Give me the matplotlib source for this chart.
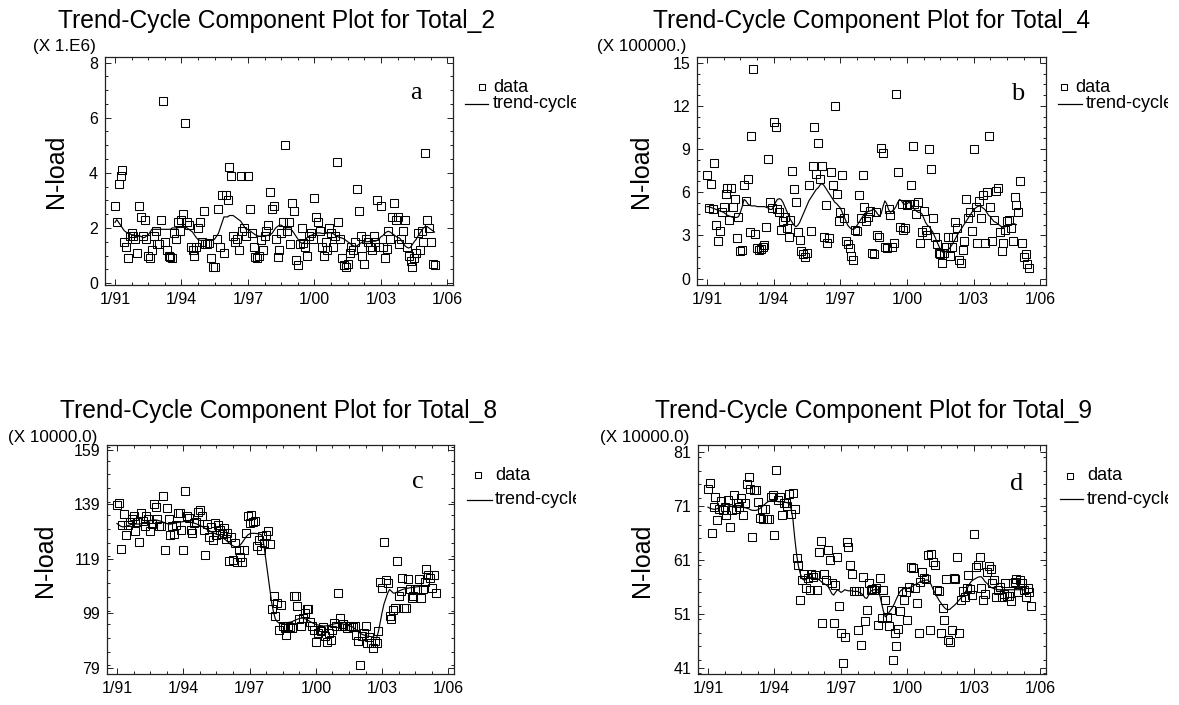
import numpy as np
import matplotlib.pyplot as plt
from matplotlib.lines import Line2D
from matplotlib.ticker import FixedLocator, MultipleLocator
from matplotlib.transforms import Bbox, TransformedBbox

plt.rcParams['font.family'] = ['Liberation Sans', 'DejaVu Sans']

W, H = 1179, 705

# monthly N-load series, first value = January 1991
total2_data = [  # x 1.E6
    2.8, 2.2, 3.6, 3.9, 4.1, 1.5, 1.3, 0.9, 1.7, 1.8, 1.7, 1.6,
    1.1, 2.8, 2.4, 1.7, 2.3, 1.6, 1.0, 0.9, 1.2, 1.7, 1.9, 1.4,
    1.4, 2.3, 6.6, 1.5, 1.2, 1.0, 0.95, 0.9, 1.8, 1.6, 2.2, 1.9,
    2.3, 2.5, 5.8, 2.2, 2.1, 1.3, 1.2, 1.0, 1.3, 2.0, 2.2, 1.5,
    2.6, 1.4, 1.4, 1.45, 0.9, 0.6, 0.6, 1.6, 2.7, 1.3, 3.2, 1.1,
    3.2, 3.0, 4.2, 3.9, 1.7, 1.5, 1.6, 1.2, 3.9, 1.9, 2.0, 1.7,
    3.9, 2.7, 1.8, 1.3, 0.95, 0.9, 1.0, 1.55, 1.2, 1.7, 1.9, 2.1,
    3.3, 2.7, 2.8, 1.6, 0.95, 1.2, 1.8, 2.2, 5.0, 1.9, 2.2, 1.4,
    2.9, 2.6, 0.85, 0.65, 1.4, 2.0, 1.45, 1.3, 1.0, 1.7, 1.8, 1.6,
    3.1, 2.4, 2.2, 1.9, 1.3, 1.0, 1.5, 1.2, 2.0, 1.8, 1.3, 1.7,
    4.4, 2.2, 1.6, 0.9, 0.65, 0.6, 0.7, 1.1, 1.3, 1.2, 1.5, 3.4,
    2.6, 1.7, 1.0, 0.7, 1.6, 1.5, 1.3, 1.2, 1.7, 1.5, 3.0, 1.3,
    2.8, 1.3, 0.9, 1.25, 1.9, 1.6, 2.4, 2.9, 2.3, 2.4, 1.4, 1.6,
    1.9, 2.3, 1.3, 1.0, 0.8, 0.6, 0.9, 1.1, 1.8, 1.2, 1.9, 1.5,
    4.7, 2.3, 2.0, 1.5, 0.7, 0.65,
]
total2_trend = [
    2.2, 2.3, 2.2, 2.1, 2.0, 1.9, 1.85, 1.8, 1.8, 1.75, 1.75, 1.7,
    1.7, 1.7, 1.7, 1.65, 1.65, 1.7, 1.75, 1.85, 1.95, 1.95, 1.95, 1.95,
    1.95, 1.95, 1.95, 1.95, 1.95, 1.95, 1.95, 2.0, 2.0, 2.0, 2.0, 2.05,
    2.05, 2.05, 2.05, 2.0, 1.95, 1.9, 1.85, 1.75, 1.65, 1.58, 1.55, 1.55,
    1.55, 1.55, 1.55, 1.55, 1.55, 1.55, 1.6, 1.7, 1.8, 2.0, 2.2, 2.4,
    2.4, 2.4, 2.45, 2.45, 2.45, 2.4, 2.35, 2.3, 2.25, 2.15, 2.05, 1.95,
    1.95, 1.9, 1.85, 1.8, 1.75, 1.72, 1.7, 1.7, 1.7, 1.7, 1.72, 1.74,
    1.75, 1.8, 1.9, 2.0, 2.05, 2.1, 2.1, 2.05, 2.0, 1.95, 1.95, 1.95,
    1.9, 1.8, 1.7, 1.6, 1.5, 1.45, 1.45, 1.55, 1.65, 1.7, 1.72, 1.75,
    1.8, 1.82, 1.82, 1.82, 1.8, 1.8, 1.8, 1.82, 1.82, 1.82, 1.8, 1.75,
    1.7, 1.67, 1.65, 1.63, 1.6, 1.55, 1.5, 1.45, 1.4, 1.35, 1.33, 1.35,
    1.4, 1.45, 1.48, 1.5, 1.5, 1.5, 1.52, 1.52, 1.52, 1.52, 1.55, 1.6,
    1.68, 1.72, 1.8, 1.85, 1.88, 1.85, 1.8, 1.75, 1.7, 1.65, 1.64, 1.55,
    1.45, 1.35, 1.3, 1.27, 1.3, 1.4, 1.5, 1.58, 1.7, 1.8, 1.9, 2.0,
    2.05, 2.05, 2.0, 1.95, 1.9, 1.85,
]

total4_data = [  # x 100000.
    7.2, 4.9, 6.6, 4.8, 8.0, 3.7, 2.6, 3.3, 4.6, 5.0, 5.9, 6.3,
    4.1, 6.3, 5.0, 5.5, 2.8, 4.3, 1.9, 2.0, 6.5, 5.4, 6.9, 3.2,
    9.9, 14.6, 3.1, 2.1, 2.0, 2.05, 2.2, 2.3, 3.6, 8.3, 5.3, 4.9,
    10.9, 10.5, 4.8, 4.6, 3.4, 4.0, 4.3, 3.5, 2.9, 4.1, 7.5, 6.2,
    5.3, 3.2, 2.7, 1.9, 1.7, 1.5, 1.8, 6.5, 3.3, 7.8, 10.5, 7.3,
    9.4, 6.9, 7.8, 2.9, 5.1, 2.5, 2.8, 7.4, 6.5, 12.0, 5.9, 4.0,
    4.6, 7.2, 4.2, 2.6, 2.4, 2.1, 1.6, 1.3, 3.4, 3.3, 5.8, 4.2,
    7.2, 5.0, 4.0, 4.3, 4.7, 1.8, 1.7, 4.6, 3.0, 2.9, 9.1, 8.7,
    2.2, 2.1, 4.8, 4.4, 2.2, 2.5, 12.8, 7.4, 3.6, 5.2, 3.4, 3.5,
    5.1, 5.2, 6.5, 9.2, 5.2, 4.5, 5.3, 2.5, 3.2, 4.7, 3.4, 3.0,
    9.0, 7.6, 4.2, 2.9, 2.4, 1.8, 1.7, 1.1, 1.8, 2.2, 2.9, 1.6,
    2.2, 2.9, 3.9, 3.5, 1.3, 1.1, 2.0, 2.6, 5.5, 4.2, 4.6, 3.3,
    9.0, 5.0, 2.5, 5.4, 4.2, 5.8, 2.5, 6.0, 9.9, 5.0, 2.6, 4.1,
    6.1, 6.3, 3.2, 1.9, 2.5, 3.4, 4.0, 4.1, 3.5, 2.6, 5.7, 5.1,
    4.6, 6.8, 2.5, 1.5, 1.7, 1.0, 0.7,
]
total4_trend = [
    5.0, 5.0, 4.95, 4.9, 4.85, 4.8, 4.75, 4.7, 4.65, 4.6, 4.5, 4.4,
    4.35, 4.3, 4.25, 4.25, 4.25, 4.3, 4.6, 5.0, 5.5, 5.4, 5.2, 5.1,
    5.05, 5.05, 5.05, 5.0, 5.0, 5.0, 5.0, 5.0, 4.95, 4.9, 4.8, 4.8,
    5.0, 5.3, 5.5, 5.55, 5.5, 5.3, 5.0, 4.7, 4.4, 4.1, 3.9, 3.7,
    3.6, 3.7, 3.9, 4.2, 4.5, 4.8, 5.1, 5.4, 5.6, 5.8, 6.0, 6.2,
    6.3, 6.5, 6.6, 6.5, 6.3, 6.1, 5.9, 5.7, 5.5, 5.3, 5.2, 5.05,
    4.9, 4.6, 4.3, 4.0, 3.7, 3.55, 3.45, 3.4, 3.5, 3.7, 3.9, 4.1,
    4.3, 4.5, 4.6, 4.65, 4.7, 4.75, 4.8, 4.7, 4.5, 4.35, 4.5, 5.0,
    5.4, 5.2, 4.8, 4.6, 4.7, 4.8, 5.0, 5.3, 5.5, 5.4, 5.2, 5.15,
    5.2, 5.3, 5.2, 5.0, 4.8, 4.7, 4.6, 4.6, 4.5, 4.2, 3.9, 3.7,
    3.6, 3.4, 3.2, 2.9, 2.6, 2.3, 2.0, 1.85, 1.8, 1.9, 2.0, 2.1,
    2.3, 2.5, 2.75, 3.0, 3.2, 3.4, 3.6, 3.8, 4.0, 4.2, 4.4, 4.6,
    4.8, 4.9, 5.0, 5.05, 5.0, 4.9, 4.8, 4.6, 4.4, 4.3, 4.1, 3.95,
    3.9, 3.8, 3.7, 3.6, 3.55, 3.6, 3.65, 3.7, 3.75, 3.8, 3.8, 3.75,
]

total8_data = [  # x 10000.0
    138.8, 139.7, 122.7, 131.5, 135.5, 127.8, 131.5, 132.7, 133.7, 134.6, 129.1, 132.4,
    125.4, 136.0, 133.1, 131.1, 134.8, 133.6, 129.1, 131.9, 139.2, 138.2, 133.5, 131.0,
    131.0, 142.1, 122.3, 137.6, 133.6, 127.8, 131.1, 128.2, 131.5, 135.8, 136.0, 129.8,
    122.3, 144.1, 134.6, 134.0, 129.7, 128.7, 132.1, 132.7, 136.4, 137.0, 134.8, 129.7,
    120.5, 131.9, 127.2, 130.9, 126.0, 132.1, 127.8, 131.5, 129.5, 128.0, 130.5, 126.5,
    128.4, 118.1, 127.2, 118.5, 124.8, 117.7, 122.3, 119.9, 117.9, 122.3, 128.4, 134.6,
    132.1, 135.0, 132.4, 133.0, 123.8, 126.0, 122.3, 127.5, 125.0, 127.8, 129.1, 124.5,
    100.6, 105.3, 97.9, 102.8, 93.0, 102.2, 94.3, 93.7, 91.2, 94.3, 94.0, 93.5,
    105.3, 105.3, 101.6, 96.9, 94.3, 97.5, 99.1, 100.6, 100.6, 96.0, 94.3, 93.0,
    88.4, 91.8, 93.0, 92.4, 94.0, 90.6, 88.4, 92.0, 89.4, 93.0, 95.5, 94.5,
    106.5, 97.3, 94.3, 95.0, 94.3, 93.8, 94.5, 94.3, 94.0, 94.3, 91.2, 88.8,
    80.0, 90.6, 92.0, 94.3, 88.2, 90.5, 88.2, 86.3, 88.8, 88.2, 92.4, 110.7,
    108.3, 125.4, 111.3, 110.1, 97.9, 96.9, 100.4, 101.0, 118.4, 105.3, 107.4, 111.9,
    101.0, 101.0, 111.5, 107.8, 104.6, 105.3, 107.8, 108.0, 111.5, 104.6, 107.8, 110.7,
    115.2, 113.0, 112.0, 108.3, 113.0, 106.4,
]
total8_trend = [
    132.0, 131.5, 131.0, 130.8, 130.8, 131.0, 131.2, 131.5, 131.7, 131.8, 131.8, 131.8,
    131.8, 131.9, 132.0, 132.2, 132.5, 132.8, 133.0, 133.2, 133.3, 133.3, 133.2, 133.0,
    132.8, 132.5, 132.2, 132.0, 131.8, 131.8, 131.9, 132.0, 132.2, 132.4, 132.5, 132.6,
    132.7, 132.8, 132.8, 132.7, 132.5, 132.3, 132.1, 131.9, 131.6, 131.3, 131.0, 130.6,
    130.2, 129.8, 129.4, 129.0, 128.7, 128.4, 128.1, 127.8, 127.4, 127.0, 126.5, 126.0,
    125.4, 124.8, 124.2, 123.8, 123.5, 123.4, 123.6, 124.2, 125.0, 126.0, 127.0, 127.8,
    128.2, 128.4, 128.4, 128.4, 128.3, 128.2, 128.0, 127.5, 123.0, 118.0, 113.0, 108.0,
    103.0, 99.5, 97.0, 96.0, 95.5, 95.3, 95.3, 95.5, 95.6, 95.7, 95.8, 96.0,
    96.3, 96.6, 96.9, 97.1, 97.3, 97.3, 97.1, 96.8, 96.4, 96.0, 95.6, 95.3,
    95.0, 94.8, 94.6, 94.5, 94.4, 94.4, 94.5, 94.6, 94.8, 95.0, 95.2, 95.3,
    95.4, 95.4, 95.3, 95.1, 94.9, 94.7, 94.5, 94.3, 94.0, 93.5, 92.9, 92.3,
    91.8, 91.4, 91.1, 90.9, 90.7, 90.6, 90.5, 90.4, 90.2, 90.0, 92.5, 96.0,
    99.5, 102.5, 104.5, 106.5, 107.8, 107.2, 106.5, 106.5, 106.8, 107.2, 107.5, 107.8,
    108.0, 108.2, 108.3, 108.4, 108.5, 108.6, 108.7, 108.8, 108.9, 109.0, 109.0, 109.0,
    109.0, 109.0,
]

total9_data = [  # x 10000.0
    74.2, 75.2, 66.0, 70.8, 72.7, 68.5, 70.5, 71.9, 70.2, 70.8, 69.3, 72.1,
    67.2, 70.2, 73.0, 70.5, 71.5, 70.8, 72.4, 69.3, 71.5, 75.0, 76.4, 74.2,
    65.3, 74.0, 73.9, 71.8, 68.7, 70.5, 68.6, 70.5, 68.6, 68.6, 72.7, 73.0,
    65.6, 77.6, 72.1, 72.7, 69.3, 71.6, 71.5, 71.0, 73.3, 69.6, 73.4, 70.5,
    61.3, 60.1, 53.6, 57.3, 58.4, 55.8, 57.6, 55.5, 58.5, 57.8, 58.2, 55.5,
    62.5, 64.6, 49.4, 58.5, 57.3, 62.8, 61.0, 56.8, 49.3, 56.4, 61.6, 52.5,
    47.5, 42.0, 46.8, 64.4, 63.5, 60.1, 58.5, 55.2, 55.2, 48.1, 55.2, 45.3,
    57.8, 49.8, 51.8, 56.7, 55.5, 55.6, 55.5, 55.8, 49.0, 57.6, 50.2, 55.5,
    53.6, 50.5, 48.7, 51.8, 42.5, 47.5, 45.0, 48.2, 51.5, 55.2, 53.6, 55.0,
    49.9, 56.1, 59.8, 59.6, 55.8, 53.0, 47.5, 57.0, 58.8, 57.6, 57.4, 61.9,
    48.0, 62.2, 60.7, 60.1, 55.5, 55.2, 47.5, 52.1, 49.9, 57.4, 46.2, 45.9,
    48.1, 57.6, 57.4, 61.6, 47.5, 53.6, 55.2, 54.2, 55.8, 58.2, 55.6, 54.5,
    65.8, 59.8, 60.1, 61.6, 55.8, 53.6, 54.8, 58.7, 59.9, 59.3, 56.7, 57.3,
    54.2, 55.5, 56.1, 54.2, 54.8, 56.7, 54.4, 54.4, 53.5, 56.7, 57.0, 57.4,
    55.0, 57.3, 56.7, 55.5, 54.2, 55.8, 55.0, 52.4,
]
total9_trend = [
    70.8, 70.6, 70.5, 70.4, 70.4, 70.5, 70.7, 71.0, 71.3, 71.5, 71.4, 71.2,
    71.0, 70.9, 70.8, 70.8, 70.8, 70.8, 70.8, 70.8, 70.7, 70.6, 70.5, 70.3,
    70.2, 70.2, 70.2, 70.3, 70.5, 70.8, 71.1, 71.4, 71.7, 71.9, 72.0, 72.0,
    72.0, 71.9, 71.8, 71.8, 71.8, 71.8, 71.7, 71.6, 71.5, 70.5, 68.5, 65.0,
    62.0, 59.8, 58.5, 57.5, 57.3, 57.4, 57.6, 57.8, 57.8, 57.7, 57.6, 57.6,
    57.4, 57.1, 56.8, 56.6, 56.4, 56.1, 55.5, 54.8, 54.5, 55.0, 55.5, 55.3,
    55.0, 55.2, 55.5, 55.4, 55.3, 55.3, 55.3, 55.2, 55.2, 55.2, 55.0, 54.8,
    54.5, 54.0, 53.9, 54.5, 55.2, 55.4, 55.5, 55.5, 55.5, 54.5, 53.0, 51.5,
    50.5, 50.8, 51.3, 51.8, 52.3, 53.0, 53.8, 54.5, 55.2, 55.5, 55.7, 55.8,
    55.8, 55.9, 56.0, 56.2, 56.4, 56.6, 56.8, 57.0, 57.1, 57.2, 57.3, 57.3,
    57.0, 56.3, 55.5, 54.8, 54.2, 53.6, 53.1, 52.6, 52.2, 51.9, 51.8, 51.9,
    52.2, 52.5, 52.8, 53.2, 53.6, 54.0, 54.3, 54.8, 55.5, 56.2, 56.8, 57.2,
    57.4, 57.6, 57.8, 57.9, 57.9, 57.5, 57.0, 56.7, 56.3, 56.0, 55.8, 55.7,
    55.6, 55.5, 55.5, 55.5, 55.5, 55.5, 55.5, 55.5, 55.5, 55.5, 55.5, 55.5,
    55.5, 55.5, 55.5, 55.5, 55.5,
]

x_ticks = [1991, 1994, 1997, 2000, 2003, 2006]
x_labels = ['1/91', '1/94', '1/97', '1/00', '1/03', '1/06']


def months(values):
    return 1991 + np.arange(len(values)) / 12.0


def fx(px):
    return px / W


def fy(py):
    return 1 - py / H


# layout of each panel in pixels: axes box (left, right, top, bottom)
panels = [
    dict(series='Total_2', data=total2_data, trend=total2_trend, scale='(X 1.E6)',
         letter='a', yticks=[0, 2, 4, 6, 8], ylim=(-0.07, 8.2), yminor=0.5,
         box=(105, 453, 57, 285), title=(58, 28), scale_at=(33, 51),
         ylab=(56, 171), letter_at=(416, 99),
         leg=dict(mk=(482, 87), dtx=493, ln=(465, 488, 104), ttx=493, clip=576)),
    dict(series='Total_4', data=total4_data, trend=total4_trend, scale='(X 100000.)',
         letter='b', yticks=[0, 3, 6, 9, 12, 15], ylim=(-0.45, 15.4), yminor=0.75,
         box=(697, 1046, 57, 285), title=(653, 28), scale_at=(597, 51),
         ylab=(641, 171), letter_at=(1018, 100),
         leg=dict(mk=(1064, 87), dtx=1075, ln=(1058, 1082, 104), ttx=1086, clip=1168)),
    dict(series='Total_8', data=total8_data, trend=total8_trend, scale='(X 10000.0)',
         letter='c', yticks=[79, 99, 119, 139, 159], ylim=(76.8, 160.8), yminor=5,
         box=(107, 454, 445, 674), title=(60, 418), scale_at=(8, 442),
         ylab=(45, 560), letter_at=(418, 488),
         leg=dict(mk=(478, 475), dtx=495, ln=(467, 492, 500), ttx=495, clip=576)),
    dict(series='Total_9', data=total9_data, trend=total9_trend, scale='(X 10000.0)',
         letter='d', yticks=[41, 51, 61, 71, 81], ylim=(39.9, 82.3), yminor=2.5,
         box=(698, 1046, 445, 674), title=(655, 418), scale_at=(600, 442),
         ylab=(642, 560), letter_at=(1017, 490),
         leg=dict(mk=(1070, 476), dtx=1087, ln=(1060, 1083, 499), ttx=1087, clip=1168)),
]

fig = plt.figure(figsize=(W / 100, H / 100), dpi=100)

for p in panels:
    left, right, top, bottom = p['box']
    ax = fig.add_axes([fx(left), fy(bottom), (right - left) / W, (bottom - top) / H])

    ax.plot(months(p['data']), p['data'], ls='none', marker='s', ms=5.8,
            mfc='none', mec='black', mew=0.75)
    ax.plot(months(p['trend']), p['trend'], color='black', lw=0.85)

    ax.set_xlim(1990.55, 2006.25)
    ax.set_ylim(*p['ylim'])
    ax.set_xticks(x_ticks)
    ax.set_xticklabels(x_labels)
    ax.xaxis.set_minor_locator(FixedLocator(np.arange(1990.25, 2006.3, 0.75)))
    ax.set_yticks(p['yticks'])
    ax.yaxis.set_minor_locator(MultipleLocator(p['yminor']))
    ax.tick_params(which='both', direction='in', top=True, right=True,
                   labelsize=11.5, width=0.7, color='#222222')
    ax.tick_params(which='major', length=4, pad=5)
    ax.tick_params(which='minor', length=2.5)
    for s in ax.spines.values():
        s.set_linewidth(0.9)
        s.set_color('#222222')

    fig.text(fx(p['title'][0]), fy(p['title'][1]),
             'Trend-Cycle Component Plot for ' + p['series'],
             ha='left', va='baseline', fontsize=17.7)
    fig.text(fx(p['scale_at'][0]), fy(p['scale_at'][1]), p['scale'],
             ha='left', va='baseline', fontsize=12.3)
    fig.text(fx(p['ylab'][0]), fy(p['ylab'][1]), 'N-load', rotation=90,
             ha='center', va='center', fontsize=18)
    fig.text(fx(p['letter_at'][0]), fy(p['letter_at'][1]), p['letter'],
             ha='center', va='baseline', fontsize=19,
             family=['Liberation Serif', 'DejaVu Serif'])

    # legend drawn outside the axes, cut off at the figure column edge
    lg = p['leg']
    clip = TransformedBbox(Bbox.from_extents(0, 0, fx(lg['clip']), 1), fig.transFigure)
    fig.add_artist(Line2D([fx(lg['mk'][0])], [fy(lg['mk'][1])], transform=fig.transFigure,
                          ls='none', marker='s', ms=4.5, mfc='none', mec='black', mew=0.75))
    fig.add_artist(Line2D([fx(lg['ln'][0]), fx(lg['ln'][1])], [fy(lg['ln'][2])] * 2,
                          transform=fig.transFigure, color='black', lw=0.9))
    t1 = fig.text(fx(lg['dtx']), fy(lg['mk'][1]), 'data', ha='left', va='center',
                  fontsize=13)
    t2 = fig.text(fx(lg['ttx']), fy(lg['ln'][2]), 'trend-cycle', ha='left',
                  va='center', fontsize=13)
    for t in (t1, t2):
        t.set_clip_box(clip)
        t.set_clip_on(True)

fig.savefig('out.png', dpi=100)
